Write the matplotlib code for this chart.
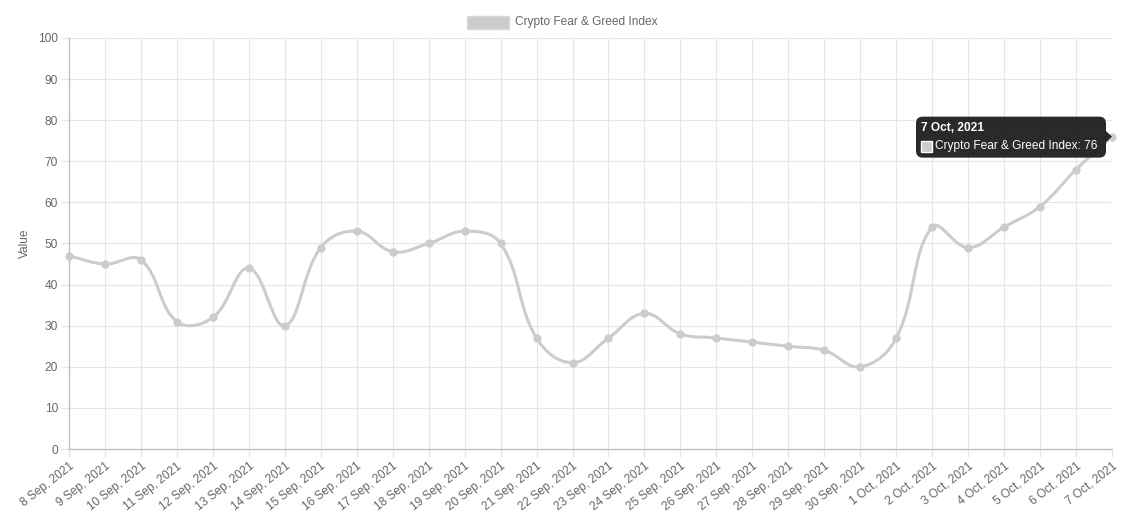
import matplotlib
matplotlib.use("Agg")
import matplotlib.pyplot as plt
import numpy as np
from matplotlib.path import Path
from matplotlib.patches import PathPatch, FancyBboxPatch, Polygon, Rectangle

plt.rcParams['font.family'] = ['Liberation Sans', 'DejaVu Sans']

dates = ["8 Sep, 2021", "9 Sep, 2021", "10 Sep, 2021", "11 Sep, 2021", "12 Sep, 2021",
         "13 Sep, 2021", "14 Sep, 2021", "15 Sep, 2021", "16 Sep, 2021", "17 Sep, 2021",
         "18 Sep, 2021", "19 Sep, 2021", "20 Sep, 2021", "21 Sep, 2021", "22 Sep, 2021",
         "23 Sep, 2021", "24 Sep, 2021", "25 Sep, 2021", "26 Sep, 2021", "27 Sep, 2021",
         "28 Sep, 2021", "29 Sep, 2021", "30 Sep, 2021", "1 Oct, 2021", "2 Oct, 2021",
         "3 Oct, 2021", "4 Oct, 2021", "5 Oct, 2021", "6 Oct, 2021", "7 Oct, 2021"]
values = [47, 45, 46, 31, 32, 44, 30, 49, 53, 48, 50, 53, 50, 27, 21,
          27, 33, 28, 27, 26, 25, 24, 20, 27, 54, 49, 54, 59, 68, 76]
series_name = "Crypto Fear & Greed Index"
y_ticks = list(range(0, 101, 10))

W, H = 1125, 513
fig = plt.figure(figsize=(W / 100, H / 100), dpi=100)
L, R, T, B = 69, 1112, 38, 449
ax = fig.add_axes([L / W, 1 - B / H, (R - L) / W, (B - T) / H])

x = np.arange(len(values))
ax.set_xlim(0, len(values) - 1)
ax.set_ylim(0, 100)

fs = 8.6
grid_c = '#e6e6e6'
ax.set_xticks(x)
ax.set_xticklabels(dates, rotation=38, ha='right', rotation_mode='anchor',
                   fontsize=fs, color='#666666')
ax.set_yticks(y_ticks)
ax.set_yticklabels([str(v) for v in y_ticks], fontsize=fs, color='#666666')
ax.tick_params(axis='both', length=6, color=grid_c, width=1, pad=2)
ax.grid(True, color=grid_c, linewidth=0.8)
ax.set_axisbelow(True)
for s in ['top', 'right']:
    ax.spines[s].set_visible(False)
for s in ['left', 'bottom']:
    ax.spines[s].set_color('#bdbdbd')
    ax.spines[s].set_linewidth(0.9)
ax.set_ylabel("Value", fontsize=fs, color='#666666', labelpad=5)

# Chart.js-style spline (tension 0.4) computed in display space
fig.canvas.draw()
pts = ax.transData.transform(np.column_stack([x, values]))
t = 0.4
n = len(pts)
cp_prev = pts.copy()
cp_next = pts.copy()
for i in range(n):
    prev = pts[i - 1] if i > 0 else pts[i]
    cur = pts[i]
    nxt = pts[i + 1] if i < n - 1 else pts[i]
    d01 = np.hypot(*(cur - prev))
    d12 = np.hypot(*(nxt - cur))
    tot = d01 + d12
    s01 = d01 / tot if tot else 0
    s12 = d12 / tot if tot else 0
    cp_prev[i] = cur - t * s01 * (nxt - prev)
    cp_next[i] = cur + t * s12 * (nxt - prev)
inv = ax.transData.inverted()
verts = [tuple(inv.transform(pts[0]))]
codes = [Path.MOVETO]
for i in range(n - 1):
    verts += [tuple(inv.transform(cp_next[i])), tuple(inv.transform(cp_prev[i + 1])),
              tuple(inv.transform(pts[i + 1]))]
    codes += [Path.CURVE4] * 3
line_c = '#cccccc'
ax.add_patch(PathPatch(Path(verts, codes), facecolor='none', edgecolor=line_c,
                       linewidth=2.2, clip_on=False, zorder=3))
ax.plot(x, values, 'o', color=line_c, markersize=5, zorder=4, clip_on=False)

# Legend
def fx(px): return px / W
def fy(py): return 1 - py / H
fig.patches.append(Rectangle((fx(467), fy(29)), fx(42), 13 / H, transform=fig.transFigure,
                             facecolor=line_c, edgecolor='#d9d9d9', linewidth=1))
fig.text(fx(515), fy(22), series_name, fontsize=fs, color='#666666', va='center', ha='left')

# Tooltip
px, py = pts[-1]
py_img = H - py
bx0, bx1 = px - 196, px - 6
by0, by1 = py_img - 20, py_img + 21
fig.patches.append(FancyBboxPatch((fx(bx0), fy(by1)), fx(bx1 - bx0), (by1 - by0) / H,
                                  boxstyle="round,pad=0,rounding_size=0.006",
                                  transform=fig.transFigure, facecolor='#1e1e1e',
                                  edgecolor='none', alpha=0.95, mutation_aspect=W / H))
fig.patches.append(Polygon([(fx(bx1 - 0.5), fy(py_img - 6)), (fx(bx1 - 0.5), fy(py_img + 6)),
                            (fx(px), fy(py_img))], closed=True, transform=fig.transFigure,
                           facecolor='#1e1e1e', edgecolor='none', alpha=0.95))
fig.text(fx(bx0 + 5), fy(by0 + 11), dates[-1], fontsize=fs, fontweight='bold',
         color='white', va='center', ha='left')
fig.patches.append(Rectangle((fx(bx0 + 5), fy(by0 + 35)), fx(11), 11 / H,
                             transform=fig.transFigure, facecolor=line_c,
                             edgecolor='white', linewidth=1))
fig.text(fx(bx0 + 19), fy(by0 + 29.5), f"{series_name}: {values[-1]}", fontsize=fs,
         color='white', va='center', ha='left')

fig.savefig("out.png", dpi=100, facecolor='white')
